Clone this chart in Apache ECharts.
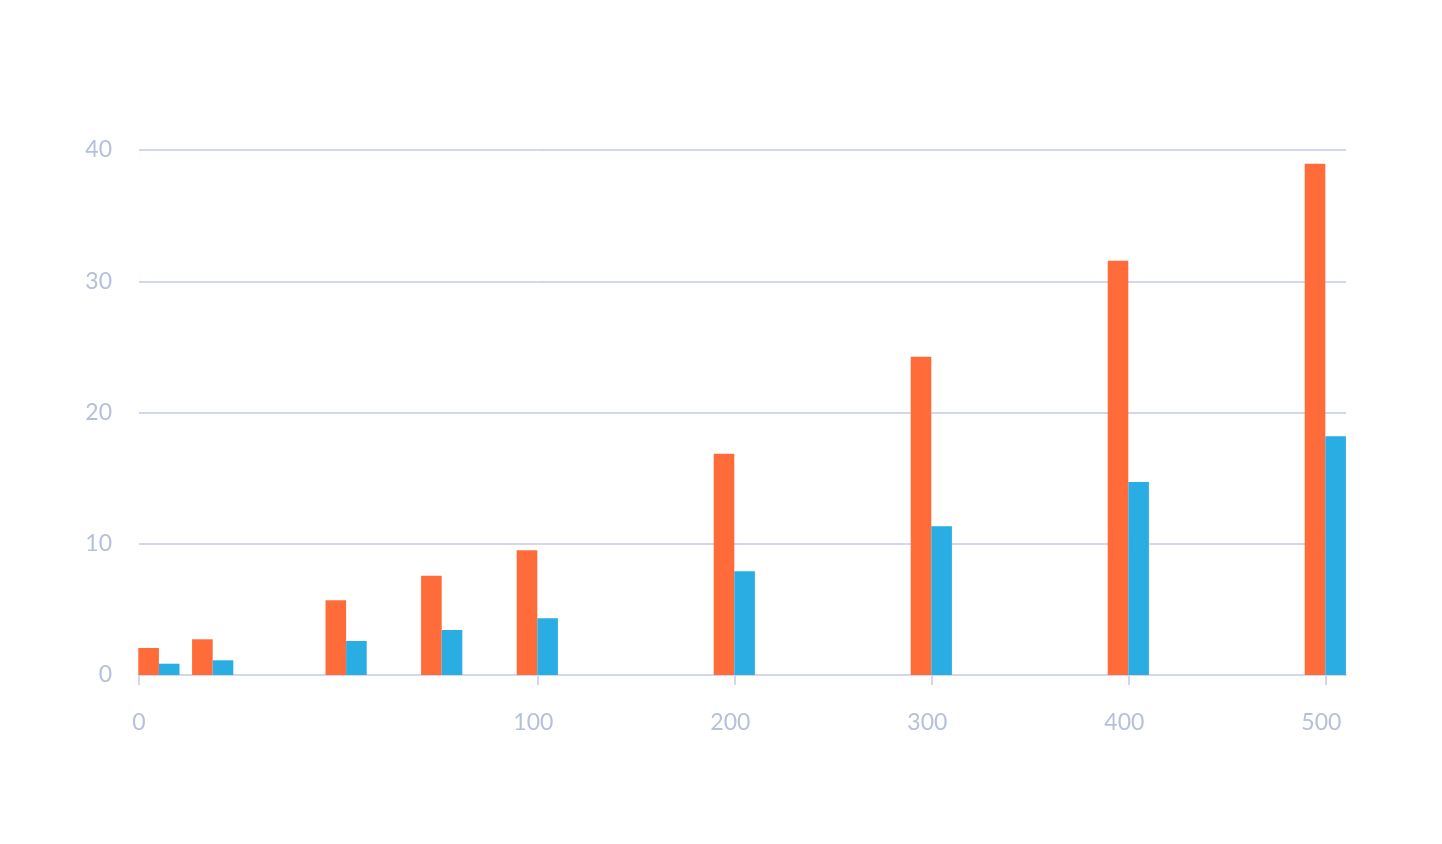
<!DOCTYPE html>
<html>
<head>
<meta charset="utf-8">
<script src="https://cdn.jsdelivr.net/npm/echarts@6/dist/echarts.min.js"></script>
<style>
html,body{margin:0;padding:0;background:#fff;}
#chart{width:1442px;height:844px;}
</style>
</head>
<body>
<div id="chart"></div>
<script>
// x positions (value along the horizontal axis) of each bar pair
const xValues = [5, 18.5, 52, 76, 100, 200, 300, 400, 500];
// orange series values
const seriesOrange = [2.06, 2.72, 5.69, 7.57, 9.50, 16.86, 24.25, 31.57, 38.96];
// blue series values
const seriesBlue = [0.86, 1.12, 2.59, 3.43, 4.32, 7.90, 11.33, 14.70, 18.19];
// axis tick labels
const xTicksLow = [0];
const xTicksHigh = [100, 200, 300, 400, 500];
const yTicks = [0, 10, 20, 30, 40];

const ORANGE = '#ff6b39';
const BLUE = '#29ade3';
const LABEL = '#b7c0da';
const LINE = '#d3d7ee';
const FONT = 'Lato';

function pairs(vals, test) {
  const out = [];
  xValues.forEach((x, i) => { if (test(x)) out.push([x, vals[i]]); });
  return out;
}
const lowTest = x => x < 100;
const highTest = x => x >= 100;

const chart = echarts.init(document.getElementById('chart'), null, {renderer: 'canvas'});

const yAxisBase = {
  type: 'value', min: 0, max: 40, interval: 10,
  axisLine: {show: false}, axisTick: {show: false},
  splitLine: {show: true, lineStyle: {color: LINE, width: 2}}
};
const xAxisBase = {
  type: 'value',
  axisLine: {show: true, lineStyle: {color: LINE, width: 2}},
  axisTick: {show: true, length: 10, lineStyle: {color: LINE, width: 2}},
  splitLine: {show: false},
  axisLabel: {color: LABEL, fontFamily: FONT, fontSize: 23, margin: 36}
};
const barBase = {type: 'bar', barWidth: 20.6, barGap: '0%', clip: false, animation: false};

chart.setOption({
  animation: false,
  backgroundColor: '#ffffff',
  grid: [
    {left: 139, top: 150, width: 398.3, bottom: 169},
    {left: 537.3, top: 150, right: 96, bottom: 169}
  ],
  xAxis: [
    Object.assign({}, xAxisBase, {
      gridIndex: 0, min: 0, max: 100, interval: 100,
      axisTick: Object.assign({}, xAxisBase.axisTick, {customValues: xTicksLow}),
      axisLabel: Object.assign({}, xAxisBase.axisLabel, {customValues: xTicksLow})
    }),
    Object.assign({}, xAxisBase, {
      gridIndex: 1, min: 100, max: 510.5, interval: 100,
      axisTick: Object.assign({}, xAxisBase.axisTick, {customValues: xTicksHigh}),
      axisLabel: Object.assign({}, xAxisBase.axisLabel, {customValues: xTicksHigh, padding: [0, 8, 0, 0]})
    })
  ],
  yAxis: [
    Object.assign({}, yAxisBase, {
      gridIndex: 0,
      axisLabel: {color: LABEL, fontFamily: FONT, fontSize: 23, margin: 27,
        customValues: yTicks}
    }),
    Object.assign({}, yAxisBase, {gridIndex: 1, axisLabel: {show: false}})
  ],
  series: [
    Object.assign({}, barBase, {xAxisIndex: 0, yAxisIndex: 0, itemStyle: {color: ORANGE}, data: pairs(seriesOrange, lowTest)}),
    Object.assign({}, barBase, {xAxisIndex: 0, yAxisIndex: 0, itemStyle: {color: BLUE}, data: pairs(seriesBlue, lowTest)}),
    Object.assign({}, barBase, {xAxisIndex: 1, yAxisIndex: 1, itemStyle: {color: ORANGE}, data: pairs(seriesOrange, highTest)}),
    Object.assign({}, barBase, {xAxisIndex: 1, yAxisIndex: 1, itemStyle: {color: BLUE}, data: pairs(seriesBlue, highTest)})
  ]
});
</script>
</body>
</html>
